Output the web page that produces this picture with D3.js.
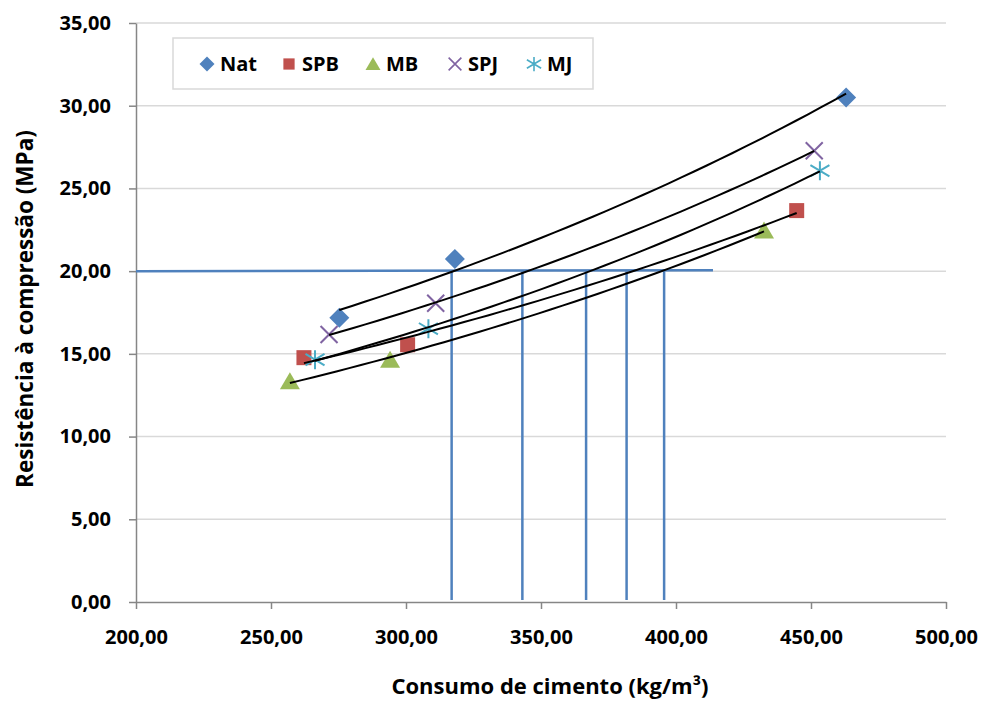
<!DOCTYPE html>
<html>
<head>
<meta charset="utf-8">
<script src="https://cdn.jsdelivr.net/npm/d3@7"></script>
<style>
  body { margin: 0; background: #fff; }
  text { font-family: "Open Sans", sans-serif; font-weight: bold; fill: #000; }
</style>
</head>
<body>
<svg id="chart" width="982" height="703"></svg>
<script>
// dados
const series = ["Nat", "SPB", "MB", "SPJ", "MJ"];
const cores = ["#4F81BD", "#C0504D", "#9BBB59", "#8064A2", "#4BACC6"];
const consumoNat = [275.3, 318.1, 463.0];
const resistNat = [17.18, 20.74, 30.49];
const consumoSPB = [262.2, 300.6, 444.7];
const resistSPB = [14.77, 15.55, 23.66];
const consumoMB = [257.0, 294.1, 432.6];
const resistMB = [13.34, 14.65, 22.45];
const consumoSPJ = [271.5, 311.0, 451.2];
const resistSPJ = [16.17, 18.06, 27.28];
const consumoMJ = [266.3, 308.3, 453.3];
const resistMJ = [14.65, 16.52, 26.07];
// linhas de leitura para 20 MPa
const resistAlvo = [20.0, 20.05];
const consumoAlvoFim = 413.7;
const consumoLeitura = [316.9, 343.1, 366.7, 381.7, 395.6];
const xTicks = [200, 250, 300, 350, 400, 450, 500];
const yTicks = [0, 5, 10, 15, 20, 25, 30, 35];

const consumos = [consumoNat, consumoSPB, consumoMB, consumoSPJ, consumoMJ];
const resists = [resistNat, resistSPB, resistMB, resistSPJ, resistMJ];

const margin = {top: 23, right: 36, bottom: 101, left: 136};
const width = 982 - margin.left - margin.right;
const height = 703 - margin.top - margin.bottom;

const br = d3.formatLocale({decimal: ",", thousands: ".", grouping: [3], currency: ["R$", ""]});
const fmt = br.format(".2f");

const xScale = d3.scaleLinear().domain([200, 500]).range([0, width]);
const yScale = d3.scaleLinear().domain([0, 35]).range([height, 0]);

const svg = d3.select("#chart");
const g = svg.append("g").attr("transform", `translate(${margin.left},${margin.top})`);

// grade
g.selectAll(".grid")
    .data(yTicks.filter(d => d > 0))
    .enter()
    .append("line")
    .attr("x1", 0)
    .attr("x2", width)
    .attr("y1", d => yScale(d))
    .attr("y2", d => yScale(d))
    .attr("stroke", "#D9D9D9")
    .attr("stroke-width", 1.5);

// eixos
const xAxis = g.append("g")
    .attr("transform", `translate(0,${height})`)
    .call(d3.axisBottom(xScale).tickValues(xTicks).tickFormat(fmt).tickSize(7).tickSizeOuter(0));
const yAxis = g.append("g")
    .call(d3.axisLeft(yScale).tickValues(yTicks).tickFormat(fmt).tickSize(7).tickSizeOuter(0));

[xAxis, yAxis].forEach(a => {
    a.select(".domain").attr("stroke", "#868686").attr("stroke-width", 1.5);
    a.selectAll(".tick line").attr("stroke", "#868686").attr("stroke-width", 1.5);
    a.selectAll(".tick text").style("font-size", "20px").style("font-family", "'Open Sans', sans-serif")
        .style("font-weight", "bold").attr("fill", "#000");
});
xAxis.selectAll(".tick text").attr("y", 28);
yAxis.selectAll(".tick text").attr("x", -25);

// linhas azuis de leitura
g.append("line")
    .attr("x1", xScale(200))
    .attr("x2", xScale(consumoAlvoFim))
    .attr("y1", yScale(resistAlvo[0]))
    .attr("y2", yScale(resistAlvo[1]))
    .attr("stroke", "#4F81BD")
    .attr("stroke-width", 2.5);

g.selectAll(".leitura")
    .data(consumoLeitura)
    .enter()
    .append("line")
    .attr("x1", d => xScale(d))
    .attr("x2", d => xScale(d))
    .attr("y1", yScale(0) - 2)
    .attr("y2", yScale(resistAlvo[0]))
    .attr("stroke", "#4F81BD")
    .attr("stroke-width", 2.5);

// marcadores
function marker(i, s) {
    if (i === 0) return `M0,${-s}L${s},0L0,${s}L${-s},0Z`;
    if (i === 1) { const h = s * 0.75; return `M${-h},${-h}H${h}V${h}H${-h}Z`; }
    if (i === 2) return `M0,${-s * 0.9}L${s},${s * 0.8}H${-s}Z`;
    const h = s * 0.85;
    if (i === 3) return `M${-h},${-h}L${h},${h}M${-h},${h}L${h},${-h}`;
    const k = s * 0.95;
    return `M${-k},${-k * 0.6}L${k},${k * 0.6}M${-k},${k * 0.6}L${k},${-k * 0.6}M0,${-k}V${k}`;
}

series.forEach((nome, i) => {
    const pts = consumos[i].map((x, j) => [x, resists[i][j]]);
    g.selectAll(".m" + i)
        .data(pts)
        .enter()
        .append("path")
        .attr("transform", d => `translate(${xScale(d[0])},${yScale(d[1])})`)
        .attr("d", marker(i, 10))
        .attr("fill", i < 3 ? cores[i] : "none")
        .attr("stroke", cores[i])
        .attr("stroke-width", i < 3 ? 0 : 2);
});

// linhas de tendência exponenciais (y = a e^(bx))
const line = d3.line().x(d => xScale(d[0])).y(d => yScale(d[1]));
series.forEach((nome, i) => {
    const xs = consumos[i];
    const ls = resists[i].map(v => Math.log(v));
    const mx = d3.mean(xs), ml = d3.mean(ls);
    const b = d3.sum(xs, (x, j) => (x - mx) * (ls[j] - ml)) / d3.sum(xs, x => (x - mx) * (x - mx));
    const a = ml - b * mx;
    const x0 = d3.min(xs), x1 = d3.max(xs);
    const curva = d3.range(0, 41).map(k => {
        const x = x0 + (x1 - x0) * k / 40;
        return [x, Math.exp(a + b * x)];
    });
    g.append("path")
        .attr("d", line(curva))
        .attr("fill", "none")
        .attr("stroke", "#000")
        .attr("stroke-width", 2);
});

// legenda
const leg = svg.append("g");
leg.append("rect")
    .attr("x", 173)
    .attr("y", 38)
    .attr("width", 420)
    .attr("height", 51)
    .attr("fill", "#fff")
    .attr("stroke", "#D9D9D9")
    .attr("stroke-width", 1.5);
const legX = [207, 289, 373, 455, 534];
series.forEach((nome, i) => {
    leg.append("path")
        .attr("transform", `translate(${legX[i]},64)`)
        .attr("d", marker(i, 7.5))
        .attr("fill", i < 3 ? cores[i] : "none")
        .attr("stroke", cores[i])
        .attr("stroke-width", i < 3 ? 0 : 1.6);
    leg.append("text")
        .attr("x", legX[i] + 13)
        .attr("y", 64)
        .attr("dy", "0.35em")
        .style("font-size", "20px")
        .text(nome);
});

// títulos
svg.append("text")
    .attr("x", 550)
    .attr("y", 694)
    .attr("text-anchor", "middle")
    .style("font-size", "22px")
    .text("Consumo de cimento (kg/m³)");
svg.append("text")
    .attr("transform", "translate(33,309) rotate(-90)")
    .attr("text-anchor", "middle")
    .style("font-size", "22.5px")
    .text("Resistência à compressão (MPa)");
</script>
</body>
</html>
